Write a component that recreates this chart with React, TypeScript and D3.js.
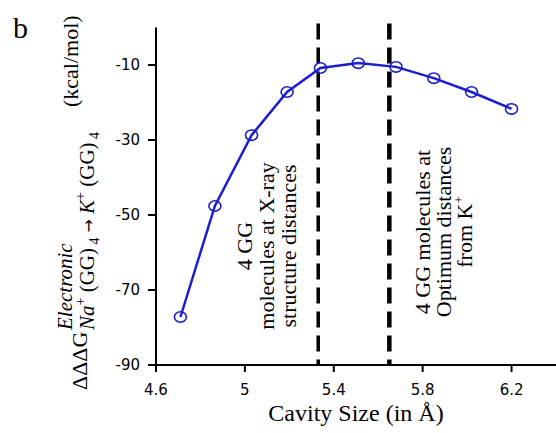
import React from 'react';
import * as d3 from 'd3';

const cavity = [4.71, 4.865, 5.03, 5.19, 5.34, 5.51, 5.68, 5.85, 6.02, 6.2];
const energy = [-77.2, -47.6, -28.7, -17.2, -10.8, -9.5, -10.5, -13.5, -17.2, -21.7];
const refLines = [5.33, 5.65];
const refWidths = [3.5, 4.5];
const xTicks = [4.6, 5, 5.4, 5.8, 6.2];
const yTicks = [-90, -70, -50, -30, -10];
const noteXray = ['4 GG', 'molecules at X-ray', 'structure distances'];
const noteOpt = ['4 GG molecules at', 'Optimum distances', 'from K'];

const W = 556, H = 433;
const blue = '#1a1ecc';
const serif = '"Liberation Serif", "Times New Roman", serif';
const sans = '"DejaVu Sans", Verdana, sans-serif';

const x = d3.scaleLinear().domain([4.6, 6.4]).range([156, 556]);
const y = d3.scaleLinear().domain([-90, 0]).range([365, 27.5]);

const pts = cavity.map((c, i) => [c, energy[i]] as [number, number]);
const line = d3.line<[number, number]>().x(d => x(d[0])).y(d => y(d[1]));

// rotated text helper: screen (sx, sy) -> local coords after rotate(-90)
const rot = (sx: number, sy: number) => ({ x: -sy, y: sx });

export default function App() {
  return (
    <svg width={W} height={H} style={{ position: 'absolute', left: 0, top: 0, background: '#fff' }}>
      <text x={13} y={38} fontFamily={serif} fontSize={30}>b</text>

      {/* reference dashed lines */}
      {refLines.map((r, i) => (
        <line key={r} x1={x(r)} x2={x(r)} y1={y(0) - 4} y2={y(-90)}
          stroke="#000" strokeWidth={refWidths[i]} strokeDasharray="16,8" />
      ))}

      {/* axes */}
      <line x1={x(4.6)} x2={x(4.6)} y1={y(0)} y2={y(-90)} stroke="#000" strokeWidth={2} />
      <line x1={x(4.6)} x2={W} y1={y(-90)} y2={y(-90)} stroke="#000" strokeWidth={2} />
      {yTicks.map(t => (
        <g key={t}>
          <line x1={x(4.6) - 8} x2={x(4.6)} y1={y(t)} y2={y(t)} stroke="#000" strokeWidth={2} />
          <text x={140} y={y(t)} dy="0.36em" textAnchor="end" fontFamily={sans} fontSize={15}>{t}</text>
        </g>
      ))}
      {xTicks.map(t => (
        <g key={t}>
          <line x1={x(t)} x2={x(t)} y1={y(-90)} y2={y(-90) + 7} stroke="#000" strokeWidth={2} />
          <text x={x(t)} y={395} textAnchor="middle" fontFamily={sans} fontSize={15}>{t}</text>
        </g>
      ))}
      <text x={356} y={421} textAnchor="middle" fontFamily={serif} fontSize={24}>Cavity Size (in Å)</text>

      {/* series */}
      <path d={line(pts) || ''} fill="none" stroke={blue} strokeWidth={2.5} />
      {pts.map((p, i) => (
        <ellipse key={i} cx={x(p[0])} cy={y(p[1])} rx={6} ry={5.2} fill="none" stroke={blue} strokeWidth={1.6} />
      ))}

      {/* annotations */}
      <g transform="rotate(-90)" fontFamily={serif} fontSize={22} textAnchor="middle">
        {noteXray.map((s, i) => {
          const p = rot(252 + i * 22, 246);
          return <text key={s} x={p.x} y={p.y}>{s}</text>;
        })}
        {noteOpt.map((s, i) => {
          const p = rot(430 + i * 21, 232);
          return (
            <text key={s} x={p.x} y={p.y}>
              {s}
              {i === 2 && <tspan fontSize={13} dy={-9}>+</tspan>}
            </text>
          );
        })}
      </g>

      {/* y axis title */}
      <g transform="rotate(-90)" fontFamily={serif}>
        <text {...rot(87, 390)} fontSize={22}>ΔΔΔG</text>
        <text {...rot(72, 330)} fontSize={21} fontStyle="italic">Electronic</text>
        <text {...rot(94, 330)} fontSize={21}>
          <tspan fontStyle="italic">Na</tspan>
          <tspan fontSize={14} dy={-9}>+</tspan>
          <tspan dy={9}> (GG)</tspan>
          <tspan fontSize={14} dy={5}> 4</tspan>
          <tspan dy={-5} fontFamily={sans} fontSize={16}> → </tspan>
          <tspan fontStyle="italic">K</tspan>
          <tspan fontSize={14} dy={-9}>+</tspan>
          <tspan dy={9}> (GG)</tspan>
          <tspan fontSize={14} dy={5}> 4</tspan>
        </text>
        <text {...rot(78, 107)} fontSize={22}>(kcal/mol)</text>
      </g>
    </svg>
  );
}
